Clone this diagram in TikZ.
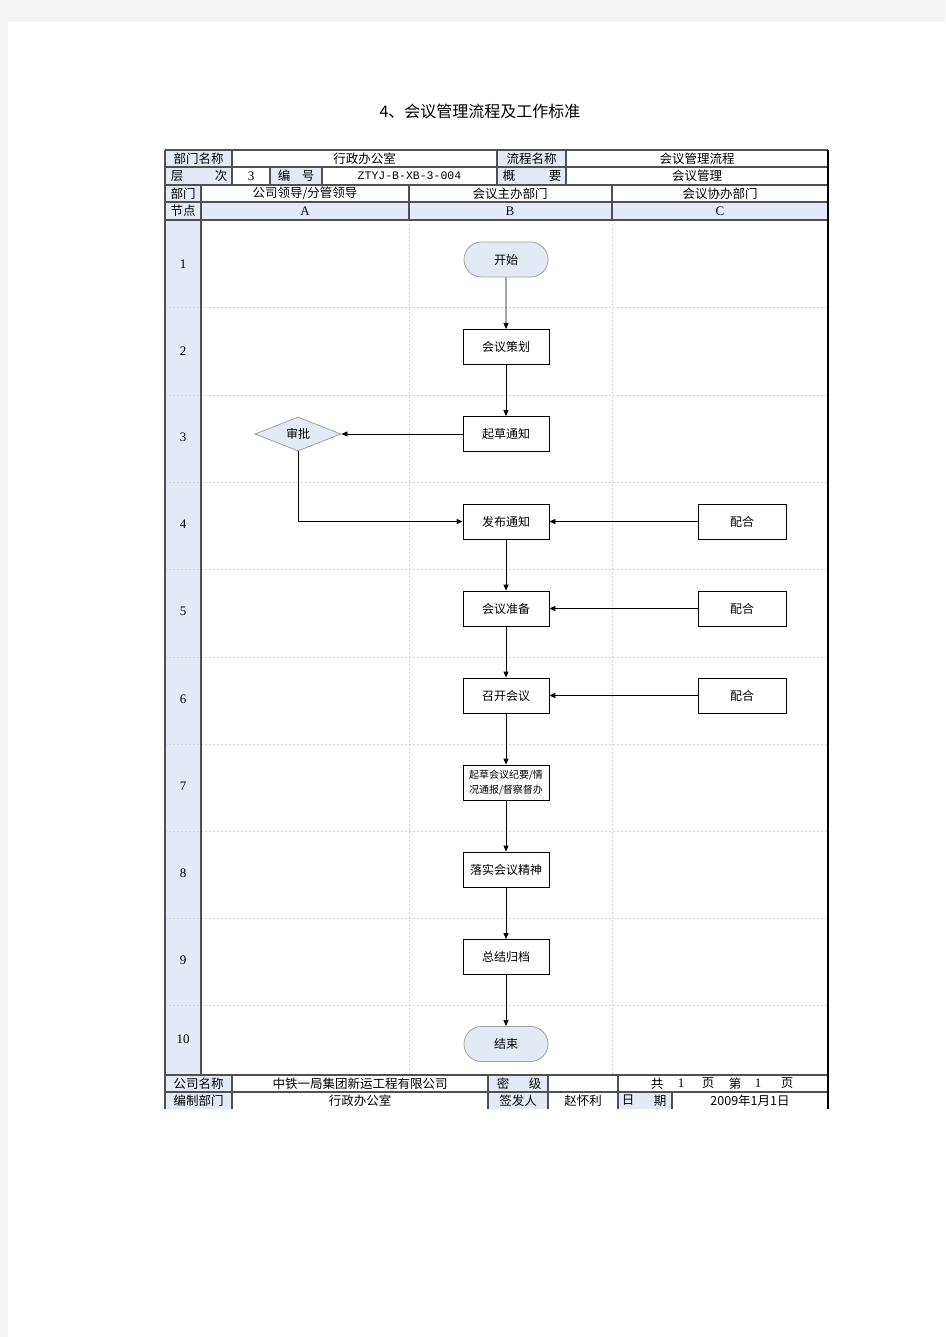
\documentclass[tikz,border=0pt]{standalone}
\usepackage{fontspec}
\setmainfont{Noto Sans CJK SC}
\newfontfamily\monof{Liberation Mono}
\newfontfamily\seriff{Liberation Serif}
\usetikzlibrary{shapes.geometric,shapes.misc,arrows.meta}
\definecolor{pagegray}{HTML}{F4F4F4}
\definecolor{cellblue}{HTML}{E4EAF5}
\definecolor{gridc}{HTML}{505050}
\definecolor{sepc}{HTML}{D4D4D4}
\definecolor{nodeborder}{HTML}{A0A0A0}
\tikzset{
  grid/.style={draw=gridc, line width=1.1pt},
  sepline/.style={draw=sepc, line width=0.7pt, dash pattern=on 2pt off 2pt},
  txt/.style={font=\fontsize{12.5}{14}\selectfont, inner sep=0pt},
  numtxt/.style={font=\seriff\fontsize{13}{14}\selectfont, inner sep=0pt},
  proc/.style={rectangle, draw=black, line width=0.8pt, fill=white, minimum width=86pt, minimum height=35pt, inner sep=1pt, font=\fontsize{12}{14}\selectfont},
  term/.style={rounded rectangle, draw=nodeborder, line width=0.8pt, fill=cellblue, minimum width=86pt, minimum height=35pt, inner sep=1pt, font=\fontsize{12}{14}\selectfont},
  dec/.style={diamond, aspect=2.5, draw=nodeborder, line width=0.8pt, fill=cellblue, minimum width=86pt, minimum height=34pt, inner sep=1pt, font=\fontsize{12}{14}\selectfont},
  arr/.style={draw=black, line width=0.8pt, -{Triangle[length=6pt,width=5pt]}},
}
\begin{document}
\begin{tikzpicture}[x=1pt,y=-1pt]
\useasboundingbox (0,0) rectangle (945,1337);
% page
\fill[pagegray] (0,0) rectangle (945,1337);
\fill[white] (8,22) rectangle (945,1337);
% title
\node[txt, font=\fontsize{16}{18}\selectfont] (title) at (480,111) {4、会议管理流程及工作标准};
% fills of label cells
\fill[cellblue] (165,150) rectangle (232,185);
\fill[cellblue] (497,150) rectangle (566,185);
\fill[cellblue] (270,167) rectangle (322,185);
\fill[cellblue] (165,185) rectangle (201,202);
\fill[cellblue] (165,202) rectangle (828,220);
\fill[cellblue] (165,220) rectangle (201,1075);
\fill[cellblue] (165,1075) rectangle (232,1109);
\fill[cellblue] (488,1075) rectangle (548,1109);
\fill[cellblue] (618,1092) rectangle (672,1109);
% dashed separators
\foreach \yy in {307.5,395,482,569.5,657,744,831,918,1005}
  \draw[sepline] (165,\yy) -- (828,\yy);
\draw[sepline] (409,220) -- (409,1075);
\draw[sepline] (612,220) -- (612,1075);
% grid
\draw[grid] (165,150) -- (828,150);
\foreach \yy in {167,185,202,220,1075,1092}
  \draw[grid] (165,\yy) -- (828,\yy);
\draw[grid] (165,150) -- (165,1109);
\draw[draw=black, line width=2pt] (828,150) -- (828,1109);
\draw[grid] (232,150) -- (232,185);
\draw[grid] (497,150) -- (497,185);
\draw[grid] (566,150) -- (566,185);
\draw[grid] (270,167) -- (270,185);
\draw[grid] (322,167) -- (322,185);
\draw[grid] (201,185) -- (201,1075);
\draw[grid] (409,185) -- (409,220);
\draw[grid] (612,185) -- (612,220);
\draw[grid] (232,1075) -- (232,1109);
\draw[grid] (488,1075) -- (488,1109);
\draw[grid] (548,1075) -- (548,1109);
\draw[grid] (618,1075) -- (618,1109);
\draw[grid] (672,1092) -- (672,1109);
% header texts
\node[txt] (h1) at (198.5,158.5) {部门名称};
\node[txt] (h2) at (364.5,158.5) {行政办公室};
\node[txt] (h3) at (531.5,158.5) {流程名称};
\node[txt] (h4) at (697,158.5) {会议管理流程};
\node[txt] (h5a) at (177,176) {层};
\node[txt] (h5b) at (221,176) {次};
\node[numtxt] (h6) at (251,176) {3};
\node[txt] (h7a) at (284,176) {编};
\node[txt] (h7b) at (308,176) {号};
\node[txt, font=\monof\fontsize{11.5}{13}\selectfont] (h8) at (409.5,176) {ZTYJ-B-XB-3-004};
\node[txt] (h9a) at (509,176) {概};
\node[txt] (h9b) at (555,176) {要};
\node[txt] (h10) at (697,176) {会议管理};
\node[txt] (h11) at (183,193.5) {部门};
\node[txt] (h12) at (305,193.5) {公司领导/分管领导};
\node[txt] (h13) at (510,193.5) {会议主办部门};
\node[txt] (h14) at (720,193.5) {会议协办部门};
\node[txt] (h15) at (183,211) {节点};
\node[numtxt] (h16) at (305,211) {A};
\node[numtxt] (h17) at (510,211) {B};
\node[numtxt] (h18) at (720,211) {C};
% row numbers
\foreach \n/\yy in {1/264,2/351,3/437,4/524,5/611,6/699,7/786,8/873,9/960,10/1039}
  \node[numtxt] (n\n) at (183,\yy) {\n};
% footer texts
\node[txt] (f1) at (198.5,1083.5) {公司名称};
\node[txt] (f2) at (360,1083.5) {中铁一局集团新运工程有限公司};
\node[txt] (f3a) at (503,1083.5) {密};
\node[txt] (f3b) at (535,1083.5) {级};
\node[txt] (f4a) at (657,1083.5) {共};
\node[numtxt] (f4b) at (681,1083.5) {1};
\node[txt] (f4c) at (708,1083.5) {页};
\node[txt] (f4d) at (735,1083.5) {第};
\node[numtxt] (f4e) at (758,1083.5) {1};
\node[txt] (f4f) at (787,1083.5) {页};
\node[txt] (f5) at (198.5,1100.5) {编制部门};
\node[txt] (f6) at (360,1100.5) {行政办公室};
\node[txt] (f7) at (518,1100.5) {签发人};
\node[txt] (f8) at (583,1100.5) {赵怀利};
\node[txt] (f9a) at (628,1100.5) {日};
\node[txt] (f9b) at (660,1100.5) {期};
\node[txt] (f10) at (750,1100.5) {2009年1月1日};
% flow nodes
\node[term] (start) at (506,259.5) {开始};
\node[proc] (plan) at (506,347) {会议策划};
\node[proc] (draft) at (506,434) {起草通知};
\node[dec] (approve) at (298,434) {审批};
\node[proc] (publish) at (506,521.5) {发布通知};
\node[proc, minimum width=88pt] (c1) at (742,521.5) {配合};
\node[proc] (prep) at (506,608.5) {会议准备};
\node[proc, minimum width=88pt] (c2) at (742,608.5) {配合};
\node[proc] (hold) at (506,695.5) {召开会议};
\node[proc, minimum width=88pt] (c3) at (742,695.5) {配合};
\node[proc, align=center, font=\fontsize{10}{15}\selectfont] (minutes) at (506,782.5) {起草会议纪要/情\\况通报/督察督办};
\node[proc] (impl) at (506,869.5) {落实会议精神};
\node[proc] (summ) at (506,957) {总结归档};
\node[term] (finish) at (506,1044) {结束};
% connectors
\draw[arr] (start) -- (plan);
\draw[arr] (plan) -- (draft);
\draw[arr] (draft) -- (approve);
\draw[arr] (approve.south) |- (publish.west);
\draw[arr] (c1) -- (publish);
\draw[arr] (publish) -- (prep);
\draw[arr] (c2) -- (prep);
\draw[arr] (prep) -- (hold);
\draw[arr] (c3) -- (hold);
\draw[arr] (hold) -- (minutes);
\draw[arr] (minutes) -- (impl);
\draw[arr] (impl) -- (summ);
\draw[arr] (summ) -- (finish);
\end{tikzpicture}
\end{document}
